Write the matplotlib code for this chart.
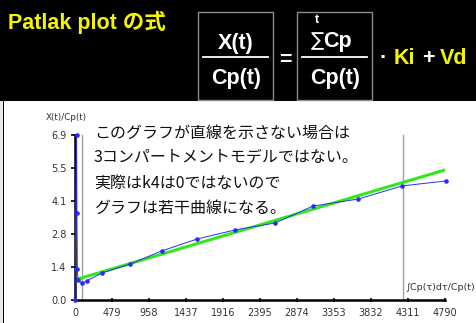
import numpy as np
import matplotlib.pyplot as plt
from matplotlib.patches import Rectangle

W, H = 477, 323

# Patlak plot data: blue = measured, green = linear fit
x_meas = [0, 20, 25, 30, 40, 90, 150, 350, 712, 1120, 1580, 2071, 2589, 3082, 3664, 4234, 4803]
y_meas = [0.0, 6.9, 3.64, 1.3, 0.84, 0.71, 0.80, 1.13, 1.50, 2.05, 2.55, 2.93, 3.22, 3.93, 4.22, 4.77, 4.98]
x_fit = [0, 4790]
y_fit = [0.84, 5.44]
x_marks = [90, 4250]          # grey vertical guides

xticks = [0, 479, 958, 1437, 1916, 2395, 2874, 3353, 3832, 4311, 4790]
yticks = [0.0, 1.38, 2.76, 4.14, 5.52, 6.9]
ytick_labels = ['0.0', '1.4', '2.8', '4.1', '5.5', '6.9']

notes = ['このグラフが直線を示さない場合は',
         '3コンパートメントモデルではない。',
         '実際はk4は0ではないので',
         'グラフは若干曲線になる。']

JP = ['Noto Sans CJK JP', 'DejaVu Sans']
LAT = ['Liberation Sans', 'Noto Sans CJK JP']


def fx(x):
    return x / W


def fy(y):
    return 1 - y / H


fig = plt.figure(figsize=(W / 100, H / 100), dpi=100, facecolor='black')

# white panel under the black header band
fig.patches.append(Rectangle((fx(4), 0), 1, fy(101), transform=fig.transFigure,
                             facecolor='white', edgecolor='none', zorder=-2))
fig.patches.append(Rectangle((0, 0), fx(2.5), fy(101), transform=fig.transFigure,
                             facecolor='#e8e8e8', edgecolor='none', zorder=-2))

# header: title and formula
fig.text(fx(8), fy(22), 'Patlak plot の式', color='#f5f500', fontsize=15.5,
         fontweight='bold', family=LAT, va='center', ha='left')

for x0 in (198, 297):
    fig.patches.append(Rectangle((fx(x0), fy(100)), fx(75), fy(12) - fy(100),
                                 transform=fig.transFigure, facecolor='none',
                                 edgecolor='#8c8c8c', lw=1, zorder=-1))
    fig.add_artist(plt.Line2D([fx(x0 + 5), fx(x0 + 70)], [fy(57), fy(57)],
                              color='white', lw=1.3, transform=fig.transFigure))

big = dict(color='white', fontsize=15.5, fontweight='bold', family=LAT,
           ha='center', va='center')
fig.text(fx(236), fy(43), 'X(t)', **big)
fig.text(fx(236), fy(79), 'Cp(t)', **big)
fig.text(fx(285), fy(60), '=', **big)
fig.text(fx(335), fy(79), 'Cp(t)', **big)
fig.text(fx(383), fy(58), '·', **big)
fig.text(fx(428), fy(58), '+', **big)
fig.text(fx(317), fy(20), 't', color='white', fontsize=9, fontweight='bold',
         family=LAT, ha='center', va='center')
fig.text(fx(317), fy(41), '∑', color='white', fontsize=14,
         family=['DejaVu Sans'], ha='center', va='center')
fig.text(fx(323), fy(41), 'Cp', color='white', fontsize=15.5, fontweight='bold',
         family=LAT, ha='left', va='center')
fig.text(fx(394), fy(58), 'Ki', color='#f5f500', fontsize=15.5, fontweight='bold',
         family=LAT, ha='left', va='center')
fig.text(fx(440), fy(58), 'Vd', color='#f5f500', fontsize=15.5, fontweight='bold',
         family=LAT, ha='left', va='center')

# plot area
ax = fig.add_axes([fx(75), fy(300), fx(370), fy(135) - fy(300)])
ax.set_facecolor('none')
ax.set_xlim(0, 4790)
ax.set_ylim(0, 6.9)

for xm in x_marks:
    ax.plot([xm, xm], [0, 6.9], color='#a0a0a0', lw=1, zorder=1, clip_on=False)

ax.plot(x_fit, y_fit, color='#33e81a', lw=2.2, zorder=2)
ax.plot(x_meas, y_meas, color='#2a2aff', lw=0.7, marker='o', ms=2.3,
        zorder=3, clip_on=False)

for s in ('top', 'right'):
    ax.spines[s].set_visible(False)
for s in ('left', 'bottom'):
    ax.spines[s].set_linewidth(1.8)
    ax.spines[s].set_color('black')

ax.set_xticks(xticks)
ax.set_xticklabels([str(t) for t in xticks])
ax.set_yticks(yticks)
ax.set_yticklabels(ytick_labels)
ax.tick_params(axis='both', labelsize=7, labelcolor='#333333', color='black')
ax.tick_params(axis='y', direction='out', length=3, width=1.2, pad=3)
ax.tick_params(axis='x', direction='inout', length=3, width=1.2, pad=4)

fig.text(fx(66), fy(117), 'X(t)/Cp(t)', fontsize=6.3, color='#333333',
         ha='center', va='center')
fig.text(fx(475), fy(288), '∫Cp(τ)dτ/Cp(t)', fontsize=6.8, color='#333333',
         ha='right', va='center')

for i, line in enumerate(notes):
    yc = [133, 157, 183, 208][i]
    fig.text(fx(94), fy(yc), line, fontsize=11.5, color='#111111',
             family=JP, ha='left', va='center')

fig.savefig('out.png', dpi=100, facecolor=fig.get_facecolor())
